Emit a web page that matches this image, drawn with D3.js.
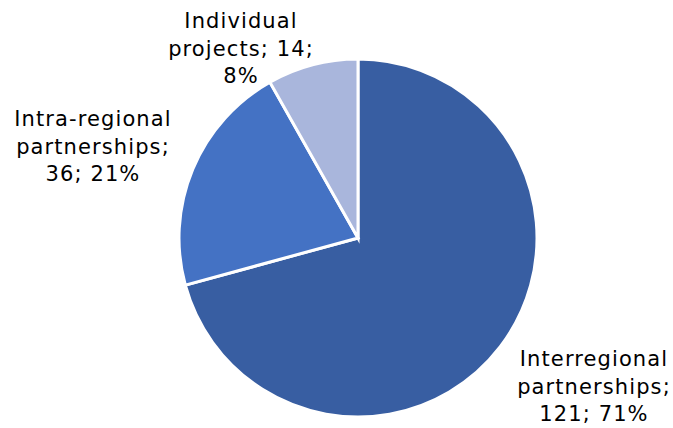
<!DOCTYPE html>
<html>
<head>
<meta charset="utf-8">
<script src="https://cdn.jsdelivr.net/npm/d3@7"></script>
<style>
  body { margin: 0; background: #fff; }
  svg { display: block; }
</style>
</head>
<body>
<div id="chart"></div>
<script>
// chart data
const categories = ['Interregional partnerships', 'Intra-regional partnerships', 'Individual projects'];
const values = [121, 36, 14];
const percents = ['71%', '21%', '8%'];
const colors = ['#385EA2', '#4472C4', '#A9B6DC'];

// label text lines, split as in the original
const labelLines = [
    ['Interregional', 'partnerships;', '121; 71%'],
    ['Intra-regional', 'partnerships;', '36; 21%'],
    ['Individual', 'projects; 14;', '8%']
];
// label centers (x, first-line y)
const labelPos = [[594, 360], [93, 120], [241, 22]];

const width = 673, height = 428;
const cx = 358, cy = 238, radius = 179;

const svg = d3.select('#chart')
    .append('svg')
    .attr('width', width)
    .attr('height', height);

const data = categories.map((c, i) => ({ name: c, value: values[i], color: colors[i], lines: labelLines[i], pos: labelPos[i] }));

const pie = d3.pie()
    .value(d => d.value)
    .sort(null);

const arc = d3.arc()
    .innerRadius(0)
    .outerRadius(radius);

const g = svg.append('g')
    .attr('transform', `translate(${cx}, ${cy})`);

g.selectAll('path')
    .data(pie(data))
    .enter().append('path')
    .attr('d', arc)
    .style('fill', d => d.data.color)
    .style('stroke', '#fff')
    .style('stroke-width', 3)
    .style('stroke-linejoin', 'miter');

// labels
const labels = svg.selectAll('text.label')
    .data(data)
    .enter().append('text')
    .attr('class', 'label')
    .attr('text-anchor', 'middle')
    .attr('dominant-baseline', 'middle')
    .style('font-family', 'Verdana, "DejaVu Sans", sans-serif')
    .style('font-size', '21px')
    .style('letter-spacing', '1.1px')
    .style('fill', '#000');

labels.selectAll('tspan')
    .data(d => d.lines.map((l, i) => ({ text: l, x: d.pos[0], y: d.pos[1] + i * 27.5 })))
    .enter().append('tspan')
    .attr('x', d => d.x)
    .attr('y', d => d.y)
    .text(d => d.text);
</script>
</body>
</html>
